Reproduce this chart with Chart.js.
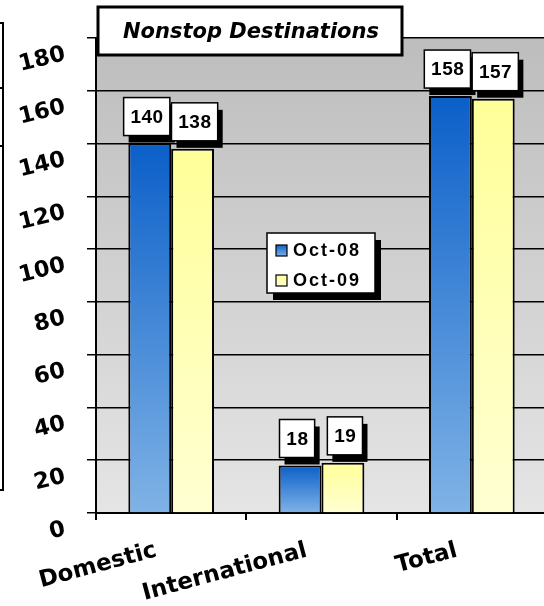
<!DOCTYPE html>
<html>
<head>
<meta charset="utf-8">
<script src="https://cdn.jsdelivr.net/npm/chart.js@4.4.1/dist/chart.umd.min.js"></script>
<style>
html, body { margin: 0; padding: 0; background: #fff; overflow: hidden; }
#wrap { width: 548px; height: 606px; }
</style>
</head>
<body>
<div id="wrap"><canvas id="nonstopChart"></canvas></div>
<script>
// chart data
const categories = ['Domestic', 'International', 'Total'];
const seriesNames = ['Oct-08', 'Oct-09'];
const oct08 = [140, 18, 158];
const oct09 = [138, 19, 157];
const yTicks = [0, 20, 40, 60, 80, 100, 120, 140, 160, 180];
const chartTitle = 'Nonstop Destinations';

var blueTop = '#0b5fc9', blueBottom = '#80b3e6';
var yellowTop = '#ffff99', yellowBottom = '#ffffd3';

// vertical gradient from the top of each bar down to the axis
function barFill(top, bottom) {
    return function (ctx) {
        const chart = ctx.chart;
        if (!chart.chartArea || ctx.type !== 'data') return top;
        const y = chart.scales.y;
        const g = chart.ctx.createLinearGradient(0, y.getPixelForValue(ctx.raw), 0, y.getPixelForValue(0));
        g.addColorStop(0, top);
        g.addColorStop(1, bottom);
        return g;
    };
}

const plotBackground = {
    id: 'plotBackground',
    beforeDraw(chart) {
        const ctx = chart.ctx, a = chart.chartArea;
        const g = ctx.createLinearGradient(0, a.top, 0, a.bottom);
        g.addColorStop(0, '#bdbdbd');
        g.addColorStop(1, '#e5e5e5');
        ctx.save();
        ctx.fillStyle = g;
        ctx.fillRect(a.left, a.top, a.right - a.left, a.bottom - a.top);
        ctx.restore();
    }
};

// white value boxes with a black drop shadow
const valueBoxes = {
    id: 'valueBoxes',
    afterDatasetsDraw(chart) {
        const ctx = chart.ctx;
        ctx.save();
        ctx.font = 'bold 19px "Liberation Sans", Arial, sans-serif';
        ctx.letterSpacing = '0.5px';
        ctx.textAlign = 'center';
        ctx.textBaseline = 'middle';
        chart.data.datasets.forEach(function (ds, di) {
            chart.getDatasetMeta(di).data.forEach(function (bar, i) {
                const text = String(ds.data[i]);
                const w = ctx.measureText(text).width + 13;
                const h = 38;
                const cx = bar.x + (di === 0 ? -3 : 2);
                const x = cx - w / 2, y = bar.y - 8 - h;
                ctx.fillStyle = '#000';
                ctx.fillRect(x + 5, y + 7, w, h);
                ctx.fillStyle = '#fff';
                ctx.fillRect(x, y, w, h);
                ctx.lineWidth = 1.5;
                ctx.strokeStyle = '#000';
                ctx.strokeRect(x, y, w, h);
                ctx.fillStyle = '#000';
                ctx.fillText(text, cx + 0.3, y + h / 2 + 1);
            });
        });
        ctx.restore();
    }
};

const titleAndLegend = {
    id: 'titleAndLegend',
    afterDraw(chart) {
        const ctx = chart.ctx;
        ctx.save();
        // title box
        ctx.fillStyle = '#fff';
        ctx.fillRect(98, 7, 304, 48);
        ctx.lineWidth = 3;
        ctx.strokeStyle = '#000';
        ctx.strokeRect(98, 7, 304, 48);
        ctx.fillStyle = '#000';
        ctx.font = 'italic bold 21px "DejaVu Sans", sans-serif';
        ctx.textAlign = 'center';
        ctx.textBaseline = 'middle';
        ctx.fillText(chartTitle, 251, 33);

        // legend box
        const lx = 267, ly = 233, lw = 108, lh = 60;
        ctx.fillStyle = '#000';
        ctx.fillRect(lx + 6, ly + 7, lw, lh);
        ctx.fillStyle = '#fff';
        ctx.fillRect(lx, ly, lw, lh);
        ctx.lineWidth = 1.5;
        ctx.strokeRect(lx, ly, lw, lh);
        ctx.font = 'bold 18px "Liberation Sans", Arial, sans-serif';
        ctx.letterSpacing = '2px';
        ctx.textAlign = 'left';
        const swatches = [[blueTop, blueBottom], [yellowTop, yellowBottom]];
        seriesNames.forEach(function (name, i) {
            const cy = 250.5 + i * 30;
            const g = ctx.createLinearGradient(0, cy - 6, 0, cy + 6);
            g.addColorStop(0, swatches[i][0]);
            g.addColorStop(1, swatches[i][1]);
            ctx.fillStyle = g;
            ctx.fillRect(276, cy - 5.5, 11, 11);
            ctx.lineWidth = 1.2;
            ctx.strokeStyle = '#000';
            ctx.strokeRect(276, cy - 5.5, 11, 11);
            ctx.fillStyle = '#000';
            ctx.fillText(name, 293, cy + 1);
        });

        // edge of a neighbouring frame on the far left
        ctx.lineWidth = 2;
        ctx.beginPath();
        ctx.moveTo(3, 23); ctx.lineTo(3, 490);
        ctx.moveTo(0, 23); ctx.lineTo(4, 23);
        ctx.moveTo(0, 490); ctx.lineTo(4, 490);
        ctx.moveTo(0, 88); ctx.lineTo(3, 88);
        ctx.moveTo(0, 146); ctx.lineTo(3, 146);
        ctx.stroke();
        ctx.restore();
    }
};

const axisFont = { family: 'DejaVu Sans', size: 22.5, weight: 'bold' };

new Chart(document.getElementById('nonstopChart'), {
    type: 'bar',
    data: {
        labels: categories,
        datasets: [
            { label: seriesNames[0], data: oct08, backgroundColor: barFill(blueTop, blueBottom),
              borderColor: '#000', borderWidth: 2, borderSkipped: 'bottom' },
            { label: seriesNames[1], data: oct09, backgroundColor: barFill(yellowTop, yellowBottom),
              borderColor: '#000', borderWidth: 2, borderSkipped: 'bottom' }
        ]
    },
    options: {
        responsive: true,
        maintainAspectRatio: false,
        animation: false,
        layout: { padding: { top: 38, right: 1, left: 0, bottom: 0 } },
        datasets: { bar: { categoryPercentage: 0.57, barPercentage: 1 } },
        plugins: {
            legend: { display: false },
            tooltip: { enabled: false }
        },
        scales: {
            x: {
                grid: { offset: true, drawOnChartArea: false, color: '#000', lineWidth: 2, tickLength: 7 },
                border: { color: '#000', width: 2 },
                ticks: { color: '#000', font: { family: 'DejaVu Sans', size: 23, weight: 'bold' },
                         minRotation: 15, maxRotation: 15, labelOffset: -15, padding: 17 },
                afterFit: function (s) { s.height = 93; }
            },
            y: {
                min: 0,
                max: 180,
                afterBuildTicks: function (s) { s.ticks = yTicks.map(function (v) { return { value: v }; }); },
                grid: { color: '#000', lineWidth: 1.5, tickLength: 9 },
                border: { color: '#000', width: 2 },
                ticks: { color: '#000', font: axisFont, minRotation: 14, maxRotation: 14, labelOffset: 16, padding: 22 },
                afterFit: function (s) { s.width = 96; }
            }
        }
    },
    plugins: [plotBackground, valueBoxes, titleAndLegend]
});
</script>
</body>
</html>
